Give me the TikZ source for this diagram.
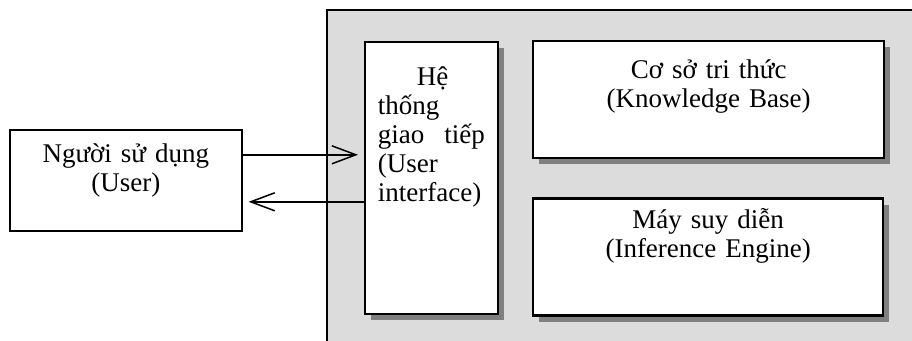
\documentclass[tikz,border=0pt]{standalone}
\usepackage{fontspec}
\setmainfont{Liberation Serif}
\usetikzlibrary{positioning,arrows.meta,shadows}

\definecolor{panelgray}{RGB}{220,220,220}
\definecolor{shadowgray}{RGB}{128,128,128}

\begin{document}
\begin{tikzpicture}[
    x=1pt, y=1pt,
    % Box styles
    panel/.style={draw=black, fill=panelgray, line width=1.6pt},
    user_box/.style={rectangle, draw=black, fill=white, line width=1.6pt,
                     inner sep=0pt, align=center, anchor=north west,
                     font=\fontsize{27}{29}\selectfont},
    part_box/.style={user_box,
                     drop shadow={shadow xshift=6pt, shadow yshift=-6pt,
                                  fill=shadowgray, opacity=1}},
    core_box/.style={part_box, line width=2.4pt},
    msg_arrow/.style={-{Straight Barb[length=24pt,width=18pt]}, line width=1.5pt,
                      shorten >=6pt}
]

% Frame of the picture
\useasboundingbox (0,0) rectangle (912,340);
\clip (0,0) rectangle (912,340);

% The system (grey panel, runs off the page)
\draw[panel] (327,330) rectangle (940,-20);

% User
\node[user_box, text width=232pt, text height=33pt, text depth=68pt] (user) at (9,211)
    {Người sử dụng\\(User)};

% User interface
\node[part_box, align=left, text width=107pt, inner xsep=13pt,
      text height=44pt, text depth=228pt] (ui) at (364,299)
    {\hspace*{39pt}Hệ\\thống\\giao\hfill tiếp\\(User\\interface)};

% Knowledge base and inference engine
\node[core_box, text width=351pt, text height=37pt, text depth=80pt] (kb) at (532,300)
    {Cơ sở tri thức\\(Knowledge Base)};
\node[core_box, text width=350pt, text height=30pt, text depth=87pt,
      below=38pt of kb.south west, anchor=north west] (engine)
    {Máy suy diễn\\(Inference Engine)};

% Dialogue between user and interface
\draw[msg_arrow] ([yshift=25.5pt]user.east) -- ([yshift=25.5pt]user.east -| ui.west);
\draw[msg_arrow] ([yshift=-21.5pt]user.east -| ui.west) -- ([yshift=-21.5pt]user.east);

\end{tikzpicture}
\end{document}
